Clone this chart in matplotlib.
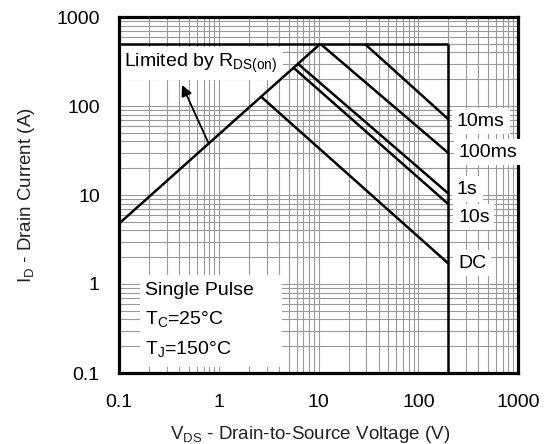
import matplotlib
matplotlib.use("Agg")
import matplotlib.pyplot as plt
from matplotlib.patches import Rectangle
from matplotlib.ticker import LogLocator, FixedLocator, FixedFormatter

plt.rcParams['font.family'] = ['Liberation Sans', 'DejaVu Sans']
plt.rcParams['mathtext.fontset'] = 'custom'
plt.rcParams['mathtext.rm'] = 'Liberation Sans'
plt.rcParams['mathtext.it'] = 'Liberation Sans:italic'

# Safe operating area boundaries (V_DS in volts, I_D in amps)
rds_v = [0.1, 10.4]
rds_i = [4.8, 500]
ilim_v = [0.1, 200]
ilim_i = [500, 500]
vmax_v = [200, 200]
vmax_i = [500, 0.1]
ms10_v = [29, 200]
ms10_i = [500, 71]
ms100_v = [10.4, 200]
ms100_i = [500, 29.6]
s1_v = [6.2, 200]
s1_i = [298, 10.4]
s10_v = [5.6, 200]
s10_i = [269, 7.9]
dc_v = [2.65, 200]
dc_i = [127, 1.7]

tick_vals = [0.1, 1, 10, 100, 1000]
tick_text = ['0.1', '1', '10', '100', '1000']

W, H = 552, 444
AX_L, AX_R, AX_T, AX_B = 119.3, 518, 17, 373


def ax_x(px):
    return (px - AX_L) / (AX_R - AX_L)


def ax_y(py):
    return 1 - (py - AX_T) / (AX_B - AX_T)


fig = plt.figure(figsize=(W / 100, H / 100), dpi=100)
ax = fig.add_axes([AX_L / W, 1 - AX_B / H, (AX_R - AX_L) / W, (AX_B - AX_T) / H])
ax.set_xscale('log')
ax.set_yscale('log')
ax.set_xlim(0.1, 1000)
ax.set_ylim(0.1, 1000)

ax.xaxis.set_major_locator(FixedLocator(tick_vals))
ax.xaxis.set_major_formatter(FixedFormatter(tick_text))
ax.yaxis.set_major_locator(FixedLocator(tick_vals))
ax.yaxis.set_major_formatter(FixedFormatter(tick_text))
ax.xaxis.set_minor_locator(LogLocator(base=10, subs=range(2, 10), numticks=20))
ax.yaxis.set_minor_locator(LogLocator(base=10, subs=range(2, 10), numticks=20))
ax.tick_params(which='both', length=0)
ax.tick_params(axis='x', which='major', labelsize=14, pad=15)
ax.tick_params(axis='y', which='major', labelsize=14, pad=14)
ax.grid(which='both', color='#9a9a9a', linewidth=0.8)
ax.set_axisbelow(True)
for sp in ax.spines.values():
    sp.set_linewidth(2.3)

lw = 1.8
for vv, ii in [(rds_v, rds_i), (ilim_v, ilim_i), (vmax_v, vmax_i), (ms10_v, ms10_i),
               (ms100_v, ms100_i), (s1_v, s1_i), (s10_v, s10_i), (dc_v, dc_i)]:
    ax.plot(vv, ii, color='black', linewidth=lw, solid_capstyle='butt', zorder=4)

# white panels behind the annotations
ax.add_patch(Rectangle((0, ax_y(80)), ax_x(283), ax_y(47) - ax_y(80),
                       transform=ax.transAxes, facecolor='white', edgecolor='none', zorder=2))
ax.add_patch(Rectangle((ax_x(140), ax_y(367)), ax_x(282) - ax_x(140), ax_y(275) - ax_y(367),
                       transform=ax.transAxes, facecolor='white', edgecolor='none', zorder=2))

ax.text(ax_x(124), ax_y(63), r'Limited by R$_{\mathrm{DS(on)}}$',
        transform=ax.transAxes, fontsize=14, va='center', ha='left', zorder=3)
ax.annotate('', xy=(0.426, 172), xytext=(0.776, 39.4),
            arrowprops=dict(arrowstyle='-|>', color='black', lw=1.3,
                            mutation_scale=16, shrinkA=0, shrinkB=0), zorder=5)

for txt, ypix in [('Single Pulse', 290), (r'T$_{\mathrm{C}}$=25°C', 319), (r'T$_{\mathrm{J}}$=150°C', 349)]:
    ax.text(ax_x(145), ax_y(ypix), txt, transform=ax.transAxes,
            fontsize=14, va='center', ha='left', zorder=3)

box = dict(boxstyle='square,pad=0.25', facecolor='white', edgecolor='none')
for txt, xpix, ypix in [('10ms', 457, 121), ('100ms', 459, 152), ('1s', 457, 189),
                        ('10s', 458, 217), ('DC', 458, 263)]:
    ax.text(ax_x(xpix), ax_y(ypix), txt, transform=ax.transAxes,
            fontsize=14, va='center', ha='left', bbox=box, zorder=6, clip_on=False)

ax.set_xlabel(r'V$_{\mathrm{DS}}$ - Drain-to-Source Voltage (V)', fontsize=13.5, color='#222222')
ax.set_ylabel(r'I$_{\mathrm{D}}$ - Drain Current (A)', fontsize=13.5, color='#222222')
ax.xaxis.set_label_coords(ax_x(310), ax_y(434))
ax.xaxis.label.set_va('center')
ax.yaxis.set_label_coords(ax_x(27), 0.5)
ax.yaxis.label.set_va('center')

fig.savefig('out.png', dpi=100)
